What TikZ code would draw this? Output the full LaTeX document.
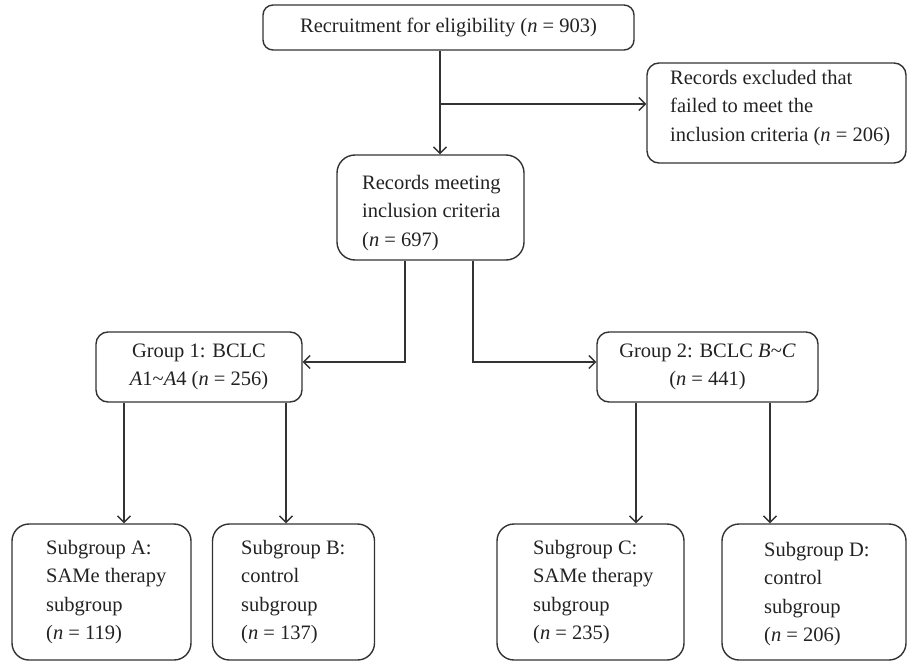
\documentclass[tikz,border=0pt]{standalone}
\usepackage{fontspec}
\setmainfont{Liberation Serif}
\usetikzlibrary{arrows.meta}
\definecolor{lc}{HTML}{333333}
\definecolor{tc}{HTML}{222222}
\begin{document}
\begin{tikzpicture}[x=1pt,y=-1pt,
  box/.style={draw=lc, line width=1.4pt, inner sep=0pt, rounded corners=#1, text=tc, align=center},
  box/.default=12pt,
  lbl/.style={anchor=north west, inner sep=0pt, align=left, text=tc},
  arr/.style={draw=lc, line width=1.3pt, -{Straight Barb[length=6.5pt,width=13pt,line width=1.3pt]}},
  font=\fontsize{20.5}{28.5}\selectfont]
\useasboundingbox (0,0) rectangle (907,661);
\begin{scope}
\clip (0,0) rectangle (907,661);
% top
\node[box=10pt, minimum width=371pt, minimum height=45pt] (top) at (448.5,27.5)
  {Recruitment for eligibility (\textit{n} = 903)};
% excluded
\node[box, minimum width=259pt, minimum height=100pt] (ex) at (776.5,113) {};
\node[lbl] (tex) at (670,70) {Records excluded that\\failed to meet the\\inclusion criteria (\textit{n} = 206)};
% records
\node[box=18pt, minimum width=187pt, minimum height=105pt] (rec) at (430.5,207.5) {};
\node[lbl] (trec) at (362,175) {Records meeting\\inclusion criteria\\(\textit{n} = 697)};
% groups
\node[box, minimum width=206pt, minimum height=70pt] (g1) at (199,367)
  {Group 1: BCLC\\\textit{A}1\textasciitilde\textit{A}4 (\textit{n} = 256)};
\node[box, minimum width=221pt, minimum height=70pt] (g2) at (707.5,367)
  {Group 2: BCLC \textit{B}\textasciitilde\textit{C}\\(\textit{n} = 441)};
% subgroups
\node[box=17pt, minimum width=179pt, minimum height=136pt] (sa) at (101.5,592) {};
\node[lbl] (tsa) at (46,540) {Subgroup A:\\SAMe therapy\\subgroup\\(\textit{n} = 119)};
\node[box=17pt, minimum width=162pt, minimum height=136pt] (sb) at (293.5,592) {};
\node[lbl] (tsb) at (241,540) {Subgroup B:\\control\\subgroup\\(\textit{n} = 137)};
\node[box=17pt, minimum width=187pt, minimum height=136pt] (sc) at (590.5,592) {};
\node[lbl] (tsc) at (533,540) {Subgroup C:\\SAMe therapy\\subgroup\\(\textit{n} = 235)};
\node[box=17pt, minimum width=184pt, minimum height=136pt] (sd) at (814,592) {};
\node[lbl] (tsd) at (764,542) {Subgroup D:\\control\\subgroup\\(\textit{n} = 206)};
\end{scope}
% connectors
\coordinate (br) at (440,104);
\draw[arr] (br |- top.south) -- (br |- rec.north);
\draw[arr] (br) -- (br -| ex.west);
\coordinate (l1) at (405,362);
\coordinate (r1) at (473,362);
\draw[arr] (l1 |- rec.south) -- (l1) -- (l1 -| g1.east);
\draw[arr] (r1 |- rec.south) -- (r1) -- (r1 -| g2.west);
\coordinate (ca) at (124,450);
\coordinate (cb) at (286,450);
\coordinate (cc) at (636,450);
\coordinate (cd) at (770,450);
\draw[arr] (ca |- g1.south) -- (ca |- sa.north);
\draw[arr] (cb |- g1.south) -- (cb |- sb.north);
\draw[arr] (cc |- g2.south) -- (cc |- sc.north);
\draw[arr] (cd |- g2.south) -- (cd |- sd.north);
\end{tikzpicture}
\end{document}
